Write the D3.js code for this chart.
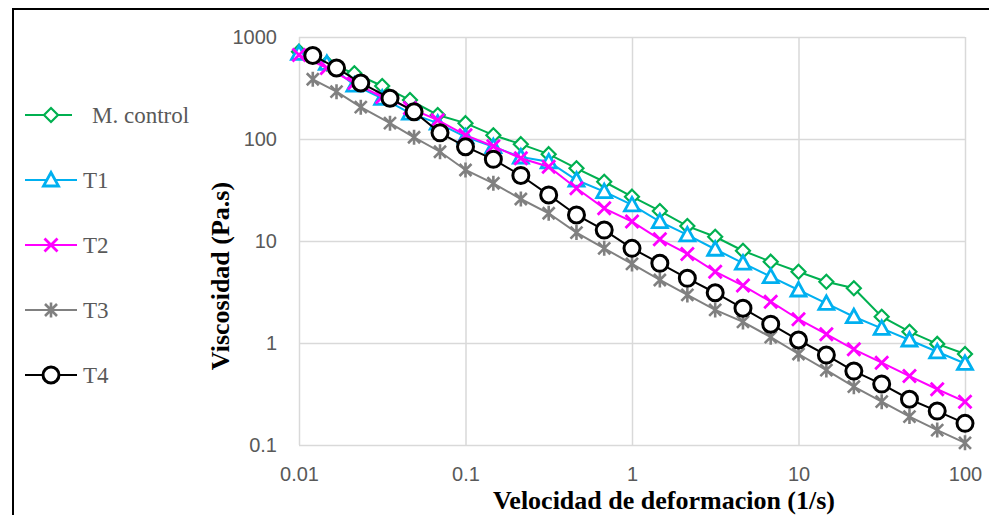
<!DOCTYPE html>
<html>
<head>
<meta charset="utf-8">
<script src="https://cdn.jsdelivr.net/npm/d3@7"></script>
<style>
  body { margin: 0; background: #fff; }
  svg { display: block; }
</style>
</head>
<body>
<div id="vis"></div>
<script>
// shear rate (1/s)
const xControl = [0.01, 0.0147, 0.0215, 0.0316, 0.0464, 0.0681, 0.1, 0.147, 0.215, 0.316, 0.464, 0.681, 1, 1.47, 2.15, 3.16, 4.64, 6.81, 10, 14.7, 21.5, 31.6, 46.4, 68.1, 100];
const xLate = [0.0121, 0.0168, 0.0235, 0.0352, 0.0491, 0.0703, 0.1, 0.147, 0.215, 0.316, 0.464, 0.681, 1, 1.47, 2.15, 3.16, 4.64, 6.81, 10, 14.7, 21.5, 31.6, 46.4, 68.1, 100];

// viscosity (Pa.s)
const mControl = [718, 552, 441, 331, 241, 172, 143, 109, 89, 71, 51.6, 38.1, 27.2, 19.7, 14.0, 11.0, 8.03, 6.27, 5.0, 3.99, 3.44, 1.81, 1.29, 0.98, 0.78];
const t1 = [692, 552, 338, 251, 179, 143, 105, 84, 66.6, 59.8, 39.6, 30.5, 22.6, 15.5, 11.5, 8.3, 6.08, 4.47, 3.31, 2.45, 1.81, 1.39, 1.07, 0.82, 0.63];
const t2 = [667, 497, 354, 258, 201, 153, 109, 85, 64.7, 53.5, 32.9, 20.9, 15.5, 10.4, 7.46, 5.0, 3.66, 2.54, 1.71, 1.22, 0.867, 0.641, 0.474, 0.352, 0.266];
const t3 = [385, 291, 205, 143, 104, 75, 49.7, 36.8, 25.8, 18.7, 12.1, 8.47, 5.96, 4.15, 2.96, 2.11, 1.61, 1.14, 0.78, 0.543, 0.373, 0.266, 0.190, 0.140, 0.105];
const t4 = [659, 497, 354, 251, 185, 115, 84, 63.2, 43.9, 28.3, 18.0, 12.8, 8.47, 6.04, 4.31, 3.11, 2.19, 1.53, 1.07, 0.762, 0.531, 0.396, 0.281, 0.215, 0.163];

const seriesNames = ["M. control", "T1", "T2", "T3", "T4"];
const xTicks = [0.01, 0.1, 1, 10, 100];
const xTickLabels = ["0.01", "0.1", "1", "10", "100"];
const yTicks = [0.1, 1, 10, 100, 1000];
const yTickLabels = ["0.1", "1", "10", "100", "1000"];

const W = 989, H = 515;
const plot = {left: 299, right: 965, top: 37, bottom: 445};

const series = [
    {name: seriesNames[0], xs: xControl, ys: mControl, color: "#00b050", marker: "diamond"},
    {name: seriesNames[1], xs: xControl, ys: t1, color: "#00b0f0", marker: "triangle"},
    {name: seriesNames[2], xs: xControl, ys: t2, color: "#ff00ff", marker: "cross"},
    {name: seriesNames[3], xs: xLate, ys: t3, color: "#808080", marker: "star"},
    {name: seriesNames[4], xs: xLate, ys: t4, color: "#000000", marker: "circle"}
];

const svg = d3.select("#vis")
    .append("svg")
    .attr("width", W)
    .attr("height", H);

const xScale = d3.scaleLog().domain([0.01, 100]).range([plot.left, plot.right]);
const yScale = d3.scaleLog().domain([0.1, 1000]).range([plot.bottom, plot.top]);

// chart frame (only left and top edges are inside the picture)
svg.append("path")
    .attr("d", `M13,${H + 5} L13,9 L${W + 5},9`)
    .attr("fill", "none")
    .attr("stroke", "#000")
    .attr("stroke-width", 2);

// grid
svg.append("g")
    .attr("class", "x-grid")
    .attr("transform", `translate(0,${plot.top})`)
    .call(d3.axisBottom(xScale).tickValues(xTicks).tickSize(plot.bottom - plot.top).tickFormat(""))
    .call(g => g.select(".domain").remove());

svg.append("g")
    .attr("class", "y-grid")
    .attr("transform", `translate(${plot.left},0)`)
    .call(d3.axisLeft(yScale).tickValues(yTicks).tickSize(-(plot.right - plot.left)).tickFormat(""))
    .call(g => g.select(".domain").remove());

svg.selectAll(".x-grid line, .y-grid line")
    .attr("stroke", "#d9d9d9")
    .attr("stroke-width", 1.5);

// tick labels
svg.append("g")
    .attr("class", "x-axis")
    .attr("transform", `translate(0,${plot.bottom})`)
    .call(d3.axisBottom(xScale).tickValues(xTicks).tickSize(0).tickPadding(22)
        .tickFormat((d, i) => xTickLabels[i]))
    .call(g => g.select(".domain").remove());

svg.append("g")
    .attr("class", "y-axis")
    .attr("transform", `translate(${plot.left},0)`)
    .call(d3.axisLeft(yScale).tickValues(yTicks).tickSize(0).tickPadding(22)
        .tickFormat((d, i) => yTickLabels[i]))
    .call(g => g.select(".domain").remove());

svg.selectAll(".x-axis text, .y-axis text")
    .attr("fill", "#595959")
    .style("font-family", "'Liberation Sans', Arial, sans-serif")
    .style("font-size", "20px");

// axis titles
svg.append("text")
    .attr("x", 664)
    .attr("y", 509)
    .attr("text-anchor", "middle")
    .style("font-family", "'Liberation Serif', 'Times New Roman', serif")
    .style("font-weight", "bold")
    .style("font-size", "26px")
    .text("Velocidad de deformacion (1/s)");

svg.append("text")
    .attr("transform", "translate(229,276) rotate(-90)")
    .attr("text-anchor", "middle")
    .style("font-family", "'Liberation Serif', 'Times New Roman', serif")
    .style("font-weight", "bold")
    .style("font-size", "26px")
    .text("Viscosidad (Pa.s)");

// markers
function drawMarker(g, type, color) {
    if (type === "diamond") {
        g.append("path").attr("d", "M0,-7 L7,0 L0,7 L-7,0 Z")
            .attr("fill", "#fff").attr("stroke", color).attr("stroke-width", 2.2);
    } else if (type === "triangle") {
        g.append("path").attr("d", "M0,-7.5 L7.5,6 L-7.5,6 Z")
            .attr("fill", "#fff").attr("stroke", color).attr("stroke-width", 2.8)
            .attr("stroke-linejoin", "miter");
    } else if (type === "cross") {
        g.append("path").attr("d", "M-6.5,-6.5 L6.5,6.5 M-6.5,6.5 L6.5,-6.5")
            .attr("stroke", color).attr("stroke-width", 2.8);
    } else if (type === "star") {
        g.append("path").attr("d", "M-6,-6 L6,6 M-6,6 L6,-6 M0,-7.5 L0,7.5")
            .attr("stroke", color).attr("stroke-width", 2.6);
    } else {
        g.append("circle").attr("r", 8)
            .attr("fill", "#fff").attr("stroke", color).attr("stroke-width", 3);
    }
}

const lineGen = d3.line()
    .x(d => xScale(d.x))
    .y(d => yScale(d.y));

series.forEach(s => {
    const pts = s.xs.map((x, i) => ({x: x, y: s.ys[i]}));
    const g = svg.append("g").attr("class", "series");
    g.append("path")
        .datum(pts)
        .attr("fill", "none")
        .attr("stroke", s.color)
        .attr("stroke-width", 2)
        .attr("d", lineGen);
    g.selectAll(".pt")
        .data(pts)
        .join("g")
        .attr("class", "pt")
        .attr("transform", d => `translate(${xScale(d.x)},${yScale(d.y)})`)
        .each(function() { drawMarker(d3.select(this), s.marker, s.color); });
});

// legend
const legendY = [115, 180, 245, 310, 375];
const legend = svg.append("g").attr("class", "legend");
series.forEach((s, i) => {
    const row = legend.append("g").attr("transform", `translate(0,${legendY[i]})`);
    row.append("line")
        .attr("x1", 25).attr("x2", i === 0 ? 72 : 77)
        .attr("stroke", s.color).attr("stroke-width", 2);
    const m = row.append("g").attr("transform", "translate(51,0)");
    drawMarker(m, s.marker, s.color);
    row.append("text")
        .attr("x", i === 0 ? 92 : 83)
        .attr("y", 8)
        .attr("fill", "#595959")
        .style("font-family", "'Liberation Serif', 'Times New Roman', serif")
        .style("font-size", "23px")
        .text(s.name);
});
</script>
</body>
</html>
